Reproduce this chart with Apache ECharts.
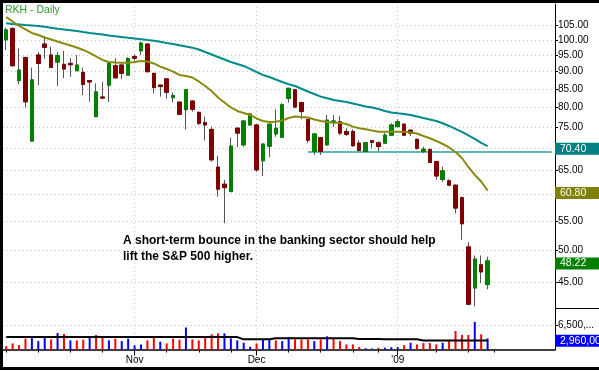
<!DOCTYPE html>
<html><head><meta charset="utf-8">
<script src="https://cdn.jsdelivr.net/npm/echarts@6/dist/echarts.min.js"></script>
<style>html,body{margin:0;padding:0;background:#fff}#c{width:599px;height:371px}</style>
</head><body><div id="c"></div>
<script>
const tradingDates = [
'2008-10-06','2008-10-07','2008-10-08','2008-10-09','2008-10-10','2008-10-13','2008-10-14','2008-10-15','2008-10-16','2008-10-17',
'2008-10-20','2008-10-21','2008-10-22','2008-10-23','2008-10-24','2008-10-27','2008-10-28','2008-10-29','2008-10-30','2008-10-31',
'2008-11-03','2008-11-04','2008-11-05','2008-11-06','2008-11-07','2008-11-10','2008-11-11','2008-11-12','2008-11-13','2008-11-14',
'2008-11-17','2008-11-18','2008-11-19','2008-11-20','2008-11-21','2008-11-24','2008-11-25','2008-11-26','2008-11-28',
'2008-12-01','2008-12-02','2008-12-03','2008-12-04','2008-12-05','2008-12-08','2008-12-09','2008-12-10','2008-12-11','2008-12-12',
'2008-12-15','2008-12-16','2008-12-17','2008-12-18','2008-12-19','2008-12-22','2008-12-23','2008-12-24','2008-12-26','2008-12-29',
'2008-12-30','2008-12-31',
'2009-01-02','2009-01-05','2009-01-06','2009-01-07','2009-01-08','2009-01-09','2009-01-12','2009-01-13','2009-01-14','2009-01-15',
'2009-01-16','2009-01-20','2009-01-21','2009-01-22','2009-01-23'];
const futureDates = ['2009-01-26','2009-01-27','2009-01-28','2009-01-29','2009-01-30','2009-02-02','2009-02-03','2009-02-04','2009-02-05','2009-02-06'];

const opens = [100.0,103.8,87.4,94.3,71.6,95.1,98.6,95.1,92.9,92.2,
92.5,90.3,89.8,87.4,77.6,82.8,86.1,91.8,92.0,89.0,
94.6,96.4,98.6,89.5,86.1,87.9,82.6,81.4,79.4,81.7,
78.7,76.1,74.4,65.7,62.1,60.6,74.7,70.7,75.5,75.5,
67.1,70.4,73.3,72.5,82.4,84.8,81.3,76.9,69.2,72.4,
70.7,76.3,76.3,73.9,73.9,71.1,69.2,71.7,71.2,71.1,
73.0,75.1,75.7,74.2,72.0,69.2,69.6,66.9,63.1,62.8,
61.9,59.4,50.5,44.1,47.6,44.6];
const highs = [104.1,104.2,97.2,94.6,91.2,96.0,101.3,97.7,96.0,96.4,
94.1,95.1,91.2,87.6,86.6,87.1,92.6,94.1,92.5,94.4,
95.3,99.4,98.8,89.7,86.2,88.0,84.0,81.6,84.9,81.9,
78.9,77.6,75.1,68.2,63.0,72.4,74.9,76.6,78.6,75.6,
71.0,75.8,79.5,81.1,85.3,85.0,81.5,77.0,73.4,72.6,
78.0,78.0,77.8,74.7,74.4,71.8,71.3,71.8,71.5,73.5,
75.9,76.9,75.9,74.4,72.2,70.3,69.9,67.0,65.8,63.1,
62.0,59.6,51.3,49.1,49.1,48.9];
const lows = [96.7,91.5,86.3,80.0,71.5,86.1,93.9,91.2,85.9,88.1,
88.5,90.2,83.3,81.5,77.5,82.3,81.4,88.1,87.9,88.9,
93.3,95.1,89.8,83.8,82.9,82.4,81.3,78.0,74.4,78.9,
75.5,71.7,66.9,59.6,54.6,60.5,70.2,70.3,75.4,64.7,
63.8,67.9,72.6,72.4,81.3,79.8,76.9,71.1,68.4,68.4,
70.6,75.0,73.0,72.8,70.3,69.2,69.1,69.9,69.2,71.0,
72.9,74.9,72.8,72.8,69.6,68.8,66.6,63.0,62.6,61.7,
56.4,51.7,41.7,41.5,44.8,43.9];
const closes = [103.3,91.8,90.5,81.5,87.6,92.5,97.5,91.3,94.9,90.8,
92.1,92.0,86.3,87.0,84.2,82.5,92.5,88.2,89.5,94.0,
94.1,98.9,90.0,85.4,85.7,84.1,83.2,78.2,84.8,79.5,
75.9,75.5,67.3,61.1,61.4,70.4,73.5,76.5,78.3,65.1,
70.9,75.7,74.7,80.7,85.2,80.1,78.9,71.8,73.3,69.2,
76.7,76.5,73.5,73.2,70.5,69.4,71.2,71.3,70.3,73.0,
75.5,76.3,73.0,73.5,69.9,69.7,66.7,63.8,64.9,61.9,
57.4,54.5,41.8,48.5,46.5,48.22];
const volumes = [890000,1610000,1160000,2880000,3500000,2230000,3150000,2690000,4380000,4120000,
2420000,2420000,2610000,3150000,3850000,3310000,2420000,2880000,2230000,2880000,
1080000,1350000,2420000,3150000,2070000,1610000,2880000,2610000,5840000,2690000,
2420000,3310000,4040000,4300000,4300000,2960000,2420000,1800000,730000,1610000,
2690000,2690000,2420000,2230000,3310000,2690000,2690000,2690000,2230000,2690000,
3500000,2880000,2230000,1350000,1350000,670000,320000,270000,460000,460000,
620000,620000,1160000,1800000,1350000,1700000,1700000,1350000,1800000,2230000,
4920000,3850000,3850000,7340000,4040000,2960000];
const ma50 = [105.6,105.35,105.2,105.0,104.83,104.65,104.38,104.03,103.69,103.45,
103.2,102.94,102.6,102.27,102.0,101.76,101.43,101.16,100.93,100.66,
100.43,100.2,99.93,99.67,99.37,98.95,98.62,98.2,97.81,97.43,
96.85,96.05,95.26,94.48,93.71,92.94,92.33,91.72,90.82,89.92,
89.04,88.45,87.72,87.0,86.35,85.86,85.07,84.32,83.63,82.89,
82.45,81.99,81.72,81.45,81.05,80.65,80.25,79.98,79.59,79.07,
78.68,78.47,78.29,78.03,77.65,77.26,76.88,76.5,75.92,75.25,
74.51,73.78,72.93,72.09,71.15,70.40];
const ma20 = [107.81,106.22,104.65,103.45,102.27,101.59,100.76,100.1,99.44,98.78,
98.14,97.49,96.69,95.74,94.64,93.55,92.94,92.78,92.72,92.72,
92.94,93.24,93.09,92.48,91.51,90.82,90.01,89.04,88.74,88.3,
87.15,85.86,84.46,82.67,81.32,79.98,79.07,78.55,78.03,77.14,
76.5,76.25,76.33,76.63,77.26,77.65,77.52,77.39,76.88,76.5,
76.25,76.07,76.07,75.75,75.08,74.68,74.44,74.14,73.85,73.85,
73.85,73.85,73.85,73.65,73.41,72.81,72.26,71.62,70.91,70.1,
69.07,67.71,65.73,64.02,62.66,60.80];
const volMA = [3300000,3300000,3300000,3300000,3300000,3300000,3300000,3300000,3300000,3300000,
3300000,3300000,3300000,3300000,3300000,3300000,3300000,3300000,3300000,3300000,
3300000,3300000,3300000,3300000,3300000,3300000,3300000,3300000,3300000,3300000,
3300000,3300000,3300000,3300000,3300000,3300000,3300000,2700000,2700000,2700000,
2700000,2700000,2960000,2960000,2960000,2960000,2960000,2960000,2960000,2960000,
2960000,2960000,2960000,2960000,2960000,2800000,2800000,2800000,2800000,2700000,
2700000,2700000,2700000,2700000,2700000,2400000,2400000,2400000,2400000,2400000,
2400000,2400000,2400000,2400000,2400000,2400000];

const priceTicks = [45,50,55,60,65,70,75,80,85,90,95,100,105];
const priceLabels = [45,50,55,65,75,80,85,90,95,100,105];
const volumeTicks = [6500000];
const weekTicks = ['2008-10-06','2008-10-13','2008-10-20','2008-10-27','2008-11-03','2008-11-10','2008-11-17','2008-11-24',
'2008-12-01','2008-12-08','2008-12-15','2008-12-22','2008-12-29','2009-01-02','2009-01-12','2009-01-20','2009-01-26'];
const monthTicks = ['2008-11-03','2008-12-01','2009-01-02'];
const monthLabels = ['Nov','Dec',"'09"];
const supportLevel = 69.2;
const supportStart = '2008-12-11';
const titleText = 'RKH - Daily';
const noteLines = ['A short-term bounce in the banking sector should help','lift the S&P 500 higher.'];

const categories = tradingDates.concat(futureDates);
const lastCat = categories[categories.length - 1];
const lastIdx = closes.length - 1;
const wickData = opens.map((o, i) => [o, closes[i], lows[i], highs[i]]);
const bodyData = opens.map((o, i) => [o, closes[i], Math.min(o, closes[i]), Math.max(o, closes[i])]);
const volData = volumes.map((v, i) => ({
  value: v,
  itemStyle: { color: (i > 0 && closes[i] >= closes[i - 1]) ? '#0000ff' : '#ff0000' }
}));

const FONT = 'Liberation Sans, Arial, sans-serif';
const gridLine = { color: '#c4c4c4', width: 1, type: [1, 3] };
const monthGridLines = monthTicks.map(d => ({ xAxis: d, lineStyle: gridLine }));

function valueBox(value, bg, text) {
  return {
    yAxis: value,
    lineStyle: { color: 'transparent', width: 0 },
    label: {
      show: true, position: 'end', distance: 0, formatter: text, offset: [0, 2.5],
      color: '#ffffff', backgroundColor: bg, fontSize: 10.5, fontFamily: FONT,
      padding: [1, 20, 0, 5], lineHeight: 11
    }
  };
}

const chart = echarts.init(document.getElementById('c'), null, { renderer: 'canvas' });
chart.setOption({
  animation: false,
  backgroundColor: '#ffffff',
  textStyle: { fontFamily: FONT },
  title: [
    { text: titleText, left: 5, top: 5, padding: 0,
      textStyle: { color: '#2f9a2f', fontSize: 10.5, fontWeight: 'normal', fontFamily: FONT } },
    { text: noteLines.join('\n'), left: 123, top: 232, padding: 0,
      textStyle: { color: '#000', fontSize: 12, fontWeight: 'bold', fontFamily: FONT, lineHeight: 16.5 } }
  ],
  grid: [
    { left: 3, top: 4, width: 552, height: 304, outerBoundsMode: 'none' },
    { left: 3, top: 309, width: 552, height: 40.5, outerBoundsMode: 'none' }
  ],
  xAxis: [
    { type: 'category', gridIndex: 0, data: categories, boundaryGap: true,
      axisLine: { show: false }, axisTick: { show: false }, axisLabel: { show: false }, splitLine: { show: false } },
    { type: 'category', gridIndex: 1, data: categories, boundaryGap: true, position: 'bottom',
      axisLine: { show: true, lineStyle: { color: '#000', width: 1.5 } },
      axisTick: { show: true, alignWithLabel: true, length: 3, lineStyle: { color: '#000' },
        interval: (i, v) => weekTicks.includes(v) },
      axisLabel: { show: true, interval: (i, v) => monthTicks.includes(v), margin: 6,
        formatter: v => monthLabels[monthTicks.indexOf(v)] || '', color: '#000', fontSize: 10, fontFamily: FONT },
      splitLine: { show: false } },
    { type: 'category', gridIndex: 1, data: categories, boundaryGap: true, position: 'bottom',
      axisLine: { show: false },
      axisTick: { show: true, alignWithLabel: true, length: 6, lineStyle: { color: '#000' },
        interval: (i, v) => monthTicks.includes(v) },
      axisLabel: { show: false }, splitLine: { show: false } }
  ],
  yAxis: [
    { type: 'log', gridIndex: 0, position: 'right', min: 41.28, max: 112.52, logBase: 10,
      axisLine: { show: true, lineStyle: { color: '#000', width: 1 } },
      axisTick: { show: true, inside: false, length: 3, customValues: priceTicks, lineStyle: { color: '#000' } },
      axisLabel: { show: true, customValues: priceLabels, margin: 3, color: '#000', fontSize: 10, fontFamily: FONT,
        formatter: v => Number(v).toFixed(2) },
      splitLine: { show: true, lineStyle: gridLine } },
    { type: 'value', gridIndex: 1, position: 'right', min: 0, max: 10760000,
      axisLine: { show: true, lineStyle: { color: '#000', width: 1 } },
      axisTick: { show: true, length: 3, customValues: volumeTicks, lineStyle: { color: '#000' } },
      axisLabel: { show: true, customValues: volumeTicks, margin: 3, color: '#000', fontSize: 10, fontFamily: FONT,
        width: 38, overflow: 'truncate', ellipsis: '...',
        formatter: v => Number(v).toLocaleString('en-US') },
      splitLine: { show: true, lineStyle: gridLine } }
  ],
  series: [
    { name: 'wick', type: 'candlestick', xAxisIndex: 0, yAxisIndex: 0, data: wickData, barWidth: 4,
      itemStyle: { color: '#555', color0: '#555', borderColor: '#555', borderColor0: '#555', borderWidth: 1 },
      markLine: { z: 1, silent: true, symbol: ['none', 'none'], label: { show: false },
        data: monthGridLines.concat([[
          { coord: [supportStart, supportLevel], lineStyle: { color: '#5fb8b8', width: 2, type: 'solid' } },
          { coord: [lastCat, supportLevel] }
        ]]) } },
    { name: 'body', type: 'candlestick', xAxisIndex: 0, yAxisIndex: 0, data: bodyData, barWidth: 4,
      itemStyle: { color: '#008000', color0: '#800000', borderColor: '#008000', borderColor0: '#800000', borderWidth: 1 },
      markLine: { z: 10, silent: true, symbol: ['none', 'none'],
        data: [valueBox(closes[lastIdx], '#008000', p => Number(p.value).toFixed(2))] } },
    { name: 'MA50', type: 'line', xAxisIndex: 0, yAxisIndex: 0, data: ma50, symbol: 'none', z: 4,
      lineStyle: { color: '#008b8b', width: 2 },
      markLine: { z: 10, silent: true, symbol: ['none', 'none'],
        data: [valueBox(ma50[lastIdx], '#008080', p => Number(p.value).toFixed(2))] } },
    { name: 'MA20', type: 'line', xAxisIndex: 0, yAxisIndex: 0, data: ma20, symbol: 'none', z: 4,
      lineStyle: { color: '#8a8a10', width: 2 },
      markLine: { z: 10, silent: true, symbol: ['none', 'none'],
        data: [valueBox(ma20[lastIdx], '#808000', p => Number(p.value).toFixed(2))] } },
    { name: 'Volume', type: 'bar', xAxisIndex: 1, yAxisIndex: 1, data: volData, barWidth: 2,
      markLine: { z: 1, silent: true, symbol: ['none', 'none'], label: { show: false },
        data: monthGridLines } },
    { name: 'VolMA', type: 'line', xAxisIndex: 1, yAxisIndex: 1, data: volMA, symbol: 'none', z: 4,
      lineStyle: { color: '#000', width: 2 },
      markLine: { z: 10, silent: true, symbol: ['none', 'none'],
        data: [valueBox(volumes[lastIdx], '#0000ff', p => Number(p.value).toLocaleString('en-US'))] } }
  ],
  graphic: [
    { type: 'line', silent: true, shape: { x1: 555, y1: 308.5, x2: 599, y2: 308.5 }, style: { stroke: '#000', lineWidth: 1 } },
    { type: 'rect', silent: true, shape: { x: 1.5, y: 1.5, width: 600, height: 367 }, style: { fill: 'none', stroke: '#000', lineWidth: 3 } }
  ]
});
</script></body></html>
